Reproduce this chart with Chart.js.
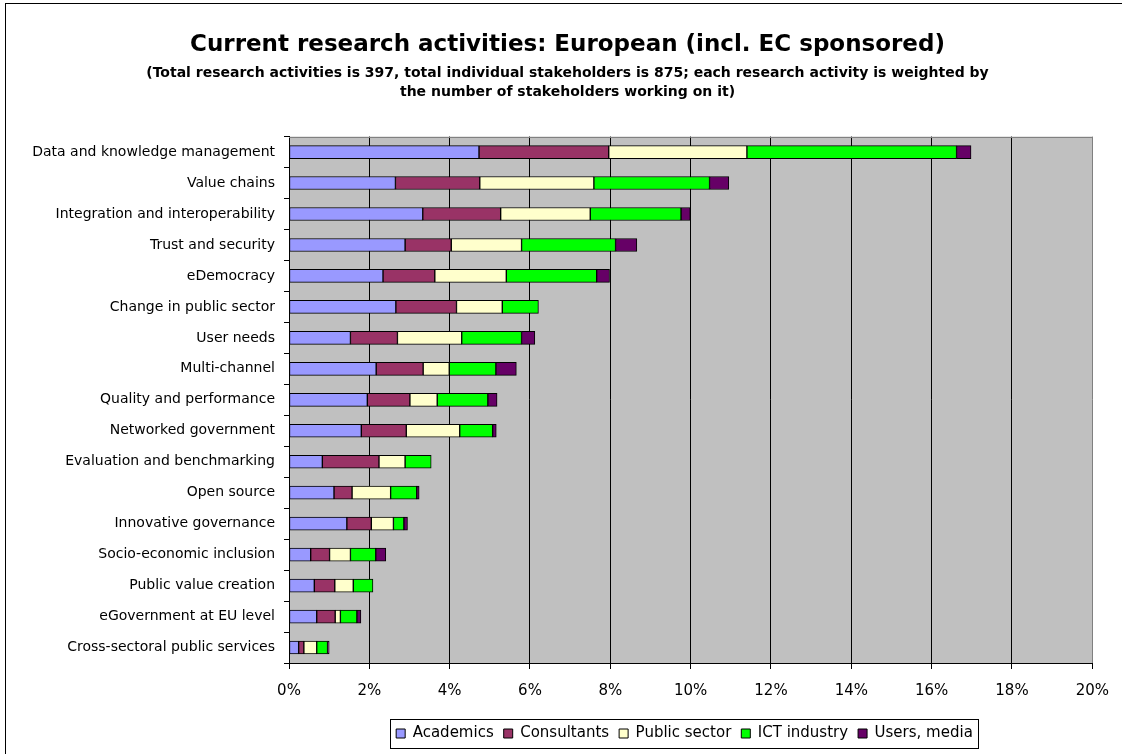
<!DOCTYPE html>
<html>
<head>
<meta charset="utf-8">
<script src="https://cdn.jsdelivr.net/npm/chart.js@4/dist/chart.umd.min.js"></script>
<style>
  html, body { margin: 0; padding: 0; background: #ffffff; }
  canvas { display: block; }
</style>
</head>
<body>
<canvas id="c" width="1122" height="754"></canvas>
<script>
// Research topics, top to bottom
const categories = [
  "Data and knowledge management",
  "Value chains",
  "Integration and interoperability",
  "Trust and security",
  "eDemocracy",
  "Change in public sector",
  "User needs",
  "Multi-channel",
  "Quality and performance",
  "Networked government",
  "Evaluation and benchmarking",
  "Open source",
  "Innovative governance",
  "Socio-economic inclusion",
  "Public value creation",
  "eGovernment at EU level",
  "Cross-sectoral public services"
];

// Share of weighted research activities per stakeholder group (%)
const academics    = [4.73, 2.65, 3.33, 2.89, 2.34, 2.66, 1.53, 2.17, 1.95, 1.80, 0.83, 1.12, 1.44, 0.54, 0.63, 0.69, 0.24];
const consultants  = [3.23, 2.10, 1.94, 1.15, 1.29, 1.51, 1.17, 1.17, 1.06, 1.12, 1.41, 0.45, 0.61, 0.47, 0.51, 0.46, 0.13];
const publicSector = [3.44, 2.84, 2.23, 1.75, 1.78, 1.14, 1.60, 0.65, 0.68, 1.33, 0.65, 0.96, 0.55, 0.52, 0.46, 0.13, 0.32];
const ictIndustry  = [5.22, 2.88, 2.26, 2.34, 2.25, 0.90, 1.49, 1.16, 1.26, 0.82, 0.65, 0.65, 0.26, 0.63, 0.49, 0.41, 0.27];
const usersMedia   = [0.36, 0.48, 0.23, 0.53, 0.32, 0.00, 0.33, 0.51, 0.23, 0.09, 0.00, 0.06, 0.09, 0.25, 0.00, 0.10, 0.04];

const seriesNames = ["Academics", "Consultants", "Public sector", "ICT industry", "Users, media"];
const seriesColors = ["#9999FF", "#993366", "#FFFFCC", "#00FF00", "#660066"];
const seriesValues = [academics, consultants, publicSector, ictIndustry, usersMedia];

const xTickMax = 20;
const xTickStep = 2;

const FONT = "'DejaVu Sans', 'Liberation Sans', Arial, sans-serif";

// Page frame, grey plot background and plot top border
const framePlugin = {
  id: "frame",
  beforeDraw(chart) {
    const ctx = chart.ctx;
    const a = chart.chartArea;
    ctx.save();
    ctx.fillStyle = "#ffffff";
    ctx.fillRect(0, 0, chart.width, chart.height);
    ctx.strokeStyle = "#000000";
    ctx.lineWidth = 1;
    ctx.strokeRect(5.5, 3.5, chart.width + 20, chart.height + 20);
    ctx.fillStyle = "#C0C0C0";
    ctx.fillRect(a.left, a.top, a.right - a.left, a.bottom - a.top);
    ctx.restore();
  },
  afterDraw(chart) {
    const ctx = chart.ctx;
    const a = chart.chartArea;
    ctx.save();
    ctx.strokeStyle = "#808080";
    ctx.lineWidth = 1;
    ctx.beginPath();
    ctx.moveTo(a.left, Math.round(a.top) + 0.5);
    ctx.lineTo(a.right, Math.round(a.top) + 0.5);
    ctx.stroke();
    ctx.restore();
  }
};

// Legend sits under the plot, framed by a thin box
const legendShift = 117;
const legendPlugin = {
  id: "legendBox",
  afterLayout(chart) {
    const lg = chart.legend;
    lg.left += legendShift;
    lg.right += legendShift;
  },
  afterDraw(chart) {
    const lg = chart.legend;
    const pad = lg.options.labels.padding;
    const w = lg.lineWidths[0];
    const x0 = (lg.left + pad + lg.right - w) / 2;
    const ctx = chart.ctx;
    ctx.save();
    ctx.strokeStyle = "#000000";
    ctx.lineWidth = 1;
    const left = Math.round(x0 - 6) + 0.5;
    const right = Math.round(x0 + w - pad + 5) + 0.5;
    const top = Math.round(lg.top + 3) + 0.5;
    const bottom = Math.round(lg.bottom - 3) + 0.5;
    ctx.strokeRect(left, top, right - left, bottom - top);
    ctx.restore();
  }
};

new Chart(document.getElementById("c"), {
  type: "bar",
  data: {
    labels: categories,
    datasets: seriesNames.map((name, i) => ({
      label: name,
      data: seriesValues[i],
      backgroundColor: seriesColors[i],
      borderColor: "#000000",
      borderWidth: 1,
      borderSkipped: false,
      barThickness: 13
    }))
  },
  options: {
    indexAxis: "y",
    responsive: false,
    animation: false,
    devicePixelRatio: 1,
    layout: { padding: { left: 32, right: 19, top: 0, bottom: 3 } },
    scales: {
      x: {
        stacked: true,
        min: 0,
        max: xTickMax,
        position: "bottom",
        ticks: {
          stepSize: xTickStep,
          color: "#000000",
          padding: 13,
          font: { family: FONT, size: 15 },
          callback: (v) => v + "%"
        },
        grid: {
          color: (c) => (c.tick && c.tick.value === xTickMax ? "#808080" : "#000000"),
          tickColor: "#000000",
          lineWidth: 1,
          tickLength: 6
        },
        border: { display: true, color: "#000000", width: 1 },
        afterFit(scale) { scale.height = 53; }
      },
      y: {
        stacked: true,
        ticks: {
          color: "#000000",
          padding: 9,
          font: { family: FONT, size: 14 }
        },
        grid: {
          offset: true,
          drawOnChartArea: false,
          drawTicks: true,
          tickLength: 5,
          tickColor: "#000000",
          color: "#000000"
        },
        border: { display: true, color: "#000000", width: 1 },
        afterFit(scale) { scale.width = 257; }
      }
    },
    plugins: {
      title: {
        display: true,
        text: "Current research activities: European (incl. EC sponsored)",
        color: "#000000",
        font: { family: FONT, size: 23, weight: "bold", lineHeight: 1.2 },
        padding: { top: 31, bottom: 5 }
      },
      subtitle: {
        display: true,
        text: [
          "(Total research activities is 397, total individual stakeholders is 875; each research activity is weighted by",
          "the number of stakeholders working on it)"
        ],
        color: "#000000",
        font: { family: FONT, size: 14, weight: "bold", lineHeight: 1.357 },
        padding: { top: 0, bottom: 35 }
      },
      legend: {
        display: true,
        position: "bottom",
        labels: {
          color: "#000000",
          boxWidth: 9,
          boxHeight: 9,
          padding: 10,
          font: { family: FONT, size: 15 }
        }
      },
      tooltip: { enabled: false }
    }
  },
  plugins: [framePlugin, legendPlugin]
});
</script>
</body>
</html>
